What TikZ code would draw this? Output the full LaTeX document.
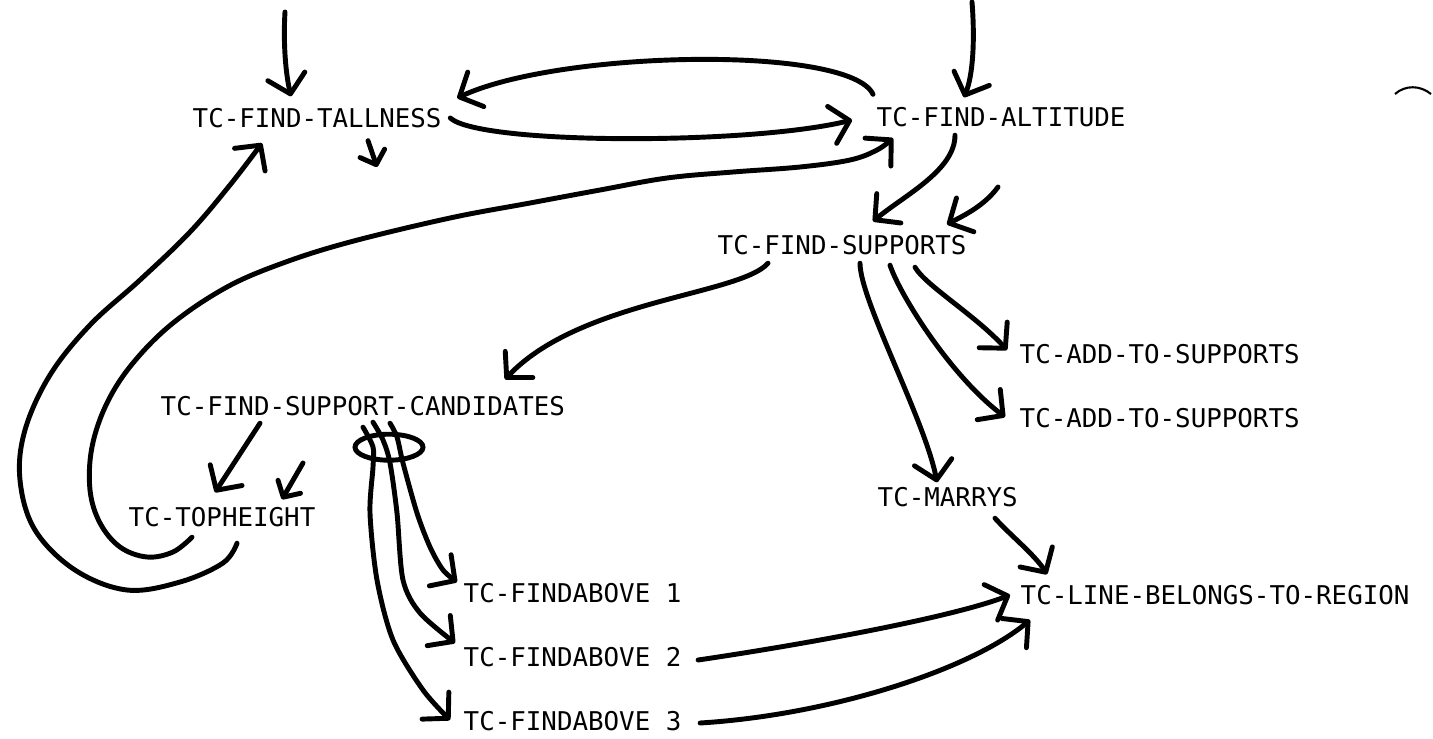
\documentclass[tikz,border=0pt]{standalone}
\usepackage{fontspec}
\newfontfamily\tcmono{DejaVu Sans Mono}
\usetikzlibrary{calc, arrows.meta}

\begin{document}
\begin{tikzpicture}[x=0.1mm, y=-0.1mm,
  fn/.style={anchor=west, inner sep=0pt, text height=1.9mm, text depth=0mm,
    font=\fontsize{7.35}{9}\selectfont\tcmono},
  arr/.style={line width=1.4pt, line cap=round, line join=round,
    -{Straight Barb[length=1.8mm,width=3.8mm,round]}},
  sarr/.style={arr, -{Straight Barb[length=1.2mm,width=2.6mm,round]}}]
  \useasboundingbox (0,0) rectangle (1433,738);

  % 関数名
  \node[fn] (tall) at (192,118) {TC-FIND-TALLNESS};
  \node[fn] (alt)  at (876,117) {TC-FIND-ALTITUDE};
  \node[fn] (sup)  at (717,245) {TC-FIND-SUPPORTS};
  \node[fn] (cand) at (160,406) {TC-FIND-SUPPORT-CANDIDATES};
  \node[fn] (top)  at (128,517) {TC-TOPHEIGHT};
  \node[fn] (add1) at (1019,354) {TC-ADD-TO-SUPPORTS};
  \node[fn] (add2) at (1019,418) {TC-ADD-TO-SUPPORTS};
  \node[fn] (mar)  at (877,497) {TC-MARRYS};
  \node[fn] (reg)  at (1020,595) {TC-LINE-BELONGS-TO-REGION};
  \node[fn] (fa1)  at (463,593) {TC-FINDABOVE 1};
  \node[fn] (fa2)  at (463,657) {TC-FINDABOVE 2};
  \node[fn] (fa3)  at (463,721) {TC-FINDABOVE 3};

  % 外からの矢印
  \coordinate (in_tall) at (285,12);
  \coordinate (in_alt) at (972,2);
  \coordinate (in_sup) at (998,187);
  \coordinate (in_top) at (303,463);
  \coordinate (out_tall) at (377,167);
  \draw[arr] (in_tall) .. controls (283,45) and (286,75) .. ($(tall.north west)+(99,-11.5)$);
  \draw[arr] (in_alt) .. controls (975,40) and (973,75) .. ($(alt.north west)+(88,-9.5)$);
  \draw[arr] (in_sup) .. controls (985,205) and (965,215) .. ($(sup.north west)+(230,-10.5)$);
  \draw[sarr] (in_top) -- ($(top.north west)+(154,-7.5)$);
  \draw[sarr] ($(tall.south west)+(176,12.5)$) -- (out_tall);

  % TALLNESS <-> ALTITUDE
  \draw[arr] ($(alt.north west)+(-3,-12.5)$) .. controls (850,45) and (560,50) .. ($(tall.east)+(15,-20)$);
  \draw[arr] ($(tall.east)+(8,0)$) .. controls (480,145) and (750,145) .. ($(alt.west)+(-24,3)$);
  \draw[arr] ($(alt.south west)+(79,8)$) .. controls (955,170) and (905,195) .. ($(sup.north west)+(156,-13.5)$);

  % TOPHEIGHT から戻るループ
  \draw[arr] plot[smooth, tension=0.6] coordinates {($(top.south west)+(109,16)$) (223,563) (180,582) (127,590) (75,570) (35,530) (20,480) (25,430) (50,375) (90,325) (140,280) (190,232) (230,185) ($(tall.south west)+(70,15)$)};
  \draw[arr] plot[smooth, tension=0.6] coordinates {($(top.south west)+(64,10)$) (173,552) (147,557) (120,547) (100,523) (90,490) (92,447) (107,403) (133,363) (173,323) (227,287) (283,263) (350,242) (450,218) (530,203) (600,190) (667,178) (733,172) (800,167) (850,160) (877,150) ($(alt.south west)+(17,11)$)};

  % SUPPORTS から
  \draw[arr] ($(sup.south west)+(51,8)$) .. controls (740,295) and (580,300) .. ($(cand.north west)+(345,-16.5)$);
  \draw[arr] ($(sup.south west)+(143,8)$) .. controls (860,300) and (925,420) .. ($(mar.north west)+(60,-4.5)$);
  \draw[arr] ($(sup.south west)+(173,10)$) .. controls (900,295) and (950,375) .. ($(add2.west)+(-14,-1)$);
  \draw[arr] ($(sup.south west)+(198,12)$) .. controls (925,285) and (975,315) .. ($(add1.west)+(-12,-4)$);

  % CANDIDATES から
  \draw[arr] ($(cand.south west)+(100,7)$) -- ($(top.north west)+(87,-14.5)$);
  \draw[line width=1.4pt] ($(cand.south west)+(229,31)$) ellipse [x radius=3.4mm, y radius=1.3mm];
  \draw[arr] plot[smooth] coordinates {($(cand.south west)+(230,7)$) (397,437) (403,463) (417,513) (430,547) (443,570) ($(fa1.west)+(-6,-11)$)};
  \draw[arr] plot[smooth] coordinates {($(cand.south west)+(213,6)$) (383,440) (390,463) (397,513) (403,580) (420,613) ($(fa2.west)+(-8,-14)$)};
  \draw[arr] plot[smooth] coordinates {($(cand.south west)+(203,11)$) (373,447) (373,467) (370,513) (377,580) (393,640) (423,690) ($(fa3.west)+(-13,-1)$)};

  % REGION へ
  \draw[arr] ($(mar.south west)+(118,11)$) .. controls (1010,535) and (1035,555) .. ($(reg.north west)+(27,-10.5)$);
  \draw[arr] ($(fa2.east)+(16,3)$) .. controls (800,645) and (950,618) .. ($(reg.west)+(-10,0)$);
  \draw[arr] ($(fa3.east)+(18,2)$) .. controls (830,715) and (970,670) .. ($(reg.west)+(10,25)$);

  \draw[line width=0.6pt] (1395,94) .. controls (1405,85) and (1420,85) .. (1431,94); %右上
\end{tikzpicture}
\end{document}
